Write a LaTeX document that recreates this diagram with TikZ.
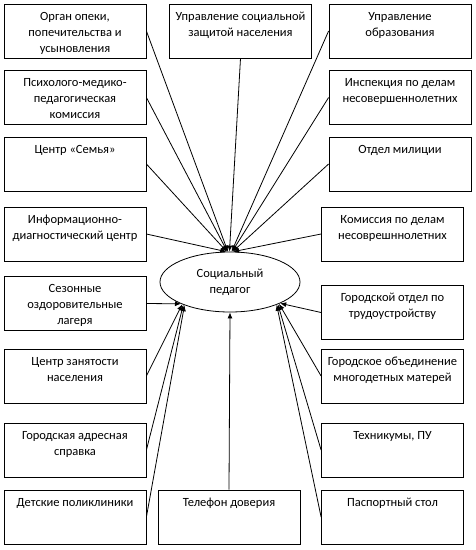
\documentclass[tikz,border=0pt]{standalone}
\usepackage{fontspec}
\setmainfont{Carlito}
\usepackage{tikz}
\usetikzlibrary{shapes.geometric, arrows.meta}

\newcommand{\boxtxt}[1]{\parbox[c][44pt][t]{140pt}{\centering\strut #1}}

\begin{document}
\begin{tikzpicture}[x=1pt, y=-1pt,
    box/.style={rectangle, draw, line width=0.8pt, inner xsep=1pt, inner ysep=5pt,
                minimum width=142pt, minimum height=54pt,
                font=\fontsize{12.5}{16}\selectfont},
    pedagog/.style={ellipse, draw, line width=0.8pt, align=center, inner sep=0pt,
                    minimum width=140pt, minimum height=60pt,
                    font=\fontsize{12.5}{16}\selectfont},
    arrow/.style={-{Latex[length=6pt, width=5pt]}, line width=0.8pt}]
  \useasboundingbox (0,0) rectangle (475,550);
  \node[pedagog] (sp) at (230,282) {Социальный\\педагог};
  % left column
  \node[box] (opeka) at (75,31) {\boxtxt{Орган опеки,\\попечительства и\\усыновления}};
  \node[box] (pmpk) at (75,97.5) {\boxtxt{Психолого-медико-\\педагогическая\\комиссия}};
  \node[box] (semya) at (75,164) {\boxtxt{Центр «Семья»}};
  \node[box] (idc) at (75,234) {\boxtxt{Информационно-\\диагностический центр}};
  \node[box] (lager) at (75,303.5) {\boxtxt{Сезонные\\оздоровительные\\лагеря}};
  \node[box] (zan) at (75,376) {\boxtxt{Центр занятости\\населения}};
  \node[box] (adres) at (75,450) {\boxtxt{Городская адресная\\справка}};
  \node[box] (poli) at (75,517) {\boxtxt{Детские поликлиники}};
  % middle
  \node[box] (uszn) at (240.5,31) {\boxtxt{Управление социальной\\защитой населения}};
  \node[box] (tel) at (229,517) {\boxtxt{Телефон доверия}};
  % right column
  \node[box] (uo) at (400,31) {\boxtxt{Управление\\образования}};
  \node[box] (idn) at (400,97.5) {\boxtxt{Инспекция по делам\\несовершеннолетних}};
  \node[box] (mil) at (400,164) {\boxtxt{Отдел милиции}};
  \node[box] (kdn) at (392.5,234) {\boxtxt{Комиссия по делам\\несоврешннолетних}};
  \node[box] (trud) at (392.5,312.5) {\boxtxt{Городской отдел по\\трудоустройству}};
  \node[box] (mnog) at (392.5,376) {\boxtxt{Городское объединение\\многодетных матерей}};
  \node[box] (tech) at (392.5,450) {\boxtxt{Техникумы, ПУ}};
  \node[box] (pasp) at (392.5,517) {\boxtxt{Паспортный стол}};
  % arrows to the top
  \draw[arrow] (opeka.east) -- (sp.94);
  \draw[arrow] (pmpk.east) -- (sp.95);
  \draw[arrow] (semya.east) -- (sp.96);
  \draw[arrow] (idc.east) -- (sp.97);
  \draw[arrow] (uszn.south) -- (sp.91);
  \draw[arrow] (uo.west) -- (sp.87);
  \draw[arrow] (idn.west) -- (sp.86);
  \draw[arrow] (mil.west) -- (sp.85);
  \draw[arrow] (kdn.west) -- (sp.84);
  % arrows to the bottom
  \draw[arrow] (lager.east) -- (sp.204);
  \draw[arrow] (zan.east) -- (sp.205);
  \draw[arrow] (adres.east) -- (sp.206);
  \draw[arrow] (poli.east) -- (sp.207);
  \draw[arrow] (tel.north) -- (sp.270);
  \draw[arrow] (trud.west) -- (sp.337);
  \draw[arrow] (mnog.west) -- (sp.336);
  \draw[arrow] (tech.west) -- (sp.335);
  \draw[arrow] (pasp.west) -- (sp.334);
\end{tikzpicture}
\end{document}
